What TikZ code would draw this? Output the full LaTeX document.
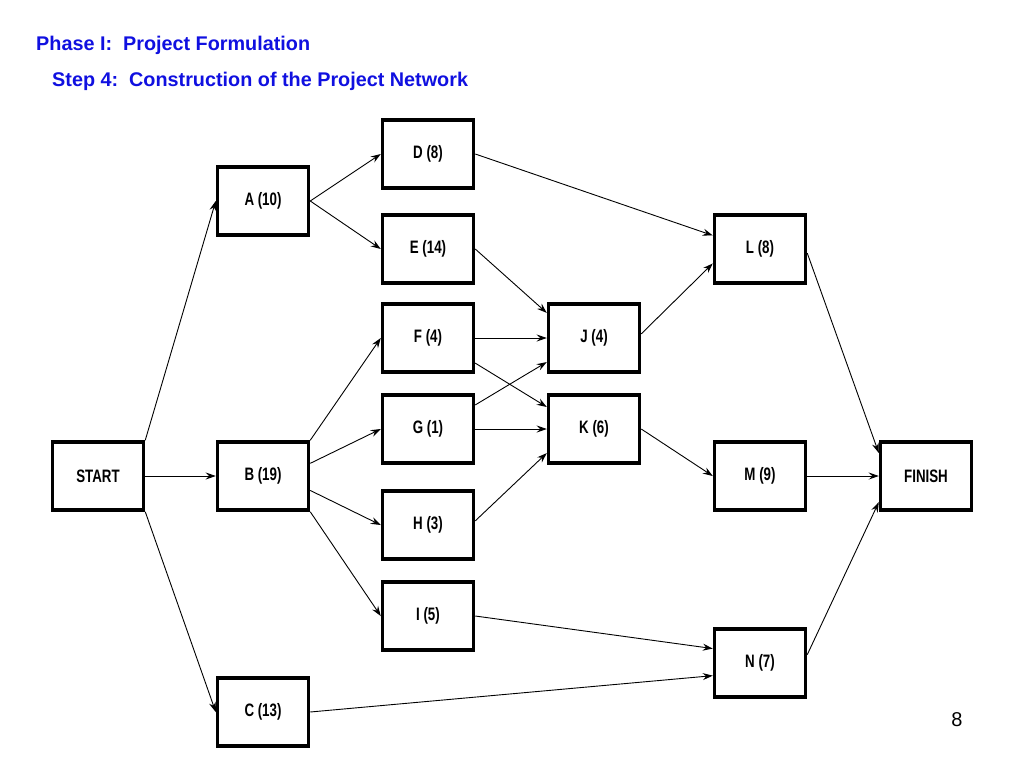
\documentclass[tikz,border=0pt]{standalone}
\usepackage{fontspec}
\setmainfont{Liberation Sans}
\newfontfamily\narrowfont{Liberation Sans}[FakeStretch=0.74]
\usetikzlibrary{arrows.meta}
\definecolor{titleblue}{RGB}{16,16,224}
\tikzset{actbox/.style={draw, rectangle, line width=3.5pt, minimum width=91pt,
    minimum height=68pt, inner sep=0pt, font=\narrowfont\bfseries\fontsize{18}{20}\selectfont},
  heading/.style={anchor=base west, inner sep=0pt, color=titleblue, font=\bfseries\fontsize{19.8}{22}\selectfont},
  net/.style={line width=0.9pt, -{Stealth[length=10pt,width=7pt,inset=3.5pt]}}}
\begin{document}
\begin{tikzpicture}
[x=1pt, y=-1pt]
\useasboundingbox (0,0) rectangle (1024,768);
  \node [heading] (t1) at (36,51) {Phase I:\ \ Project Formulation};
  \node [heading] (t2) at (52,86) {Step 4:\ \ Construction of the Project Network};
  \node [actbox] (S) at (98,476) {START};
  \node [actbox] (A) at (263,201) {A (10)};
  \node [actbox] (B) at (263,476) {B (19)};
  \node [actbox] (C) at (263,712) {C (13)};
  \node [actbox] (D) at (428,154) {D (8)};
  \node [actbox] (E) at (428,249) {E (14)};
  \node [actbox] (F) at (428,338) {F (4)};
  \node [actbox] (G) at (428,429) {G (1)};
  \node [actbox] (H) at (428,525) {H (3)};
  \node [actbox] (I) at (428,616) {I (5)};
  \node [actbox] (J) at (594,338) {J (4)};
  \node [actbox] (K) at (594,429) {K (6)};
  \node [actbox] (L) at (760,249) {L (8)};
  \node [actbox] (M) at (760,476) {M (9)};
  \node [actbox] (N) at (760,663) {N (7)};
  \node [actbox] (Fin) at (926,476) {FINISH};
  \node [anchor=base, font=\fontsize{20}{22}\selectfont] (pg) at (957,726) {8};
  \foreach \from/\to in {S.north east/A.west, S.east/B.west, S.south east/C.west,
    A.east/D.west, A.east/E.west, B.north east/F.west, B.15/G.west, B.-17/H.west,
    B.south east/I.west, C.east/N.195, I.east/N.163, D.east/L.164, E.east/J.152,
    F.east/J.west, G.27/J.207, F.-28/K.155, G.east/K.west, H.5/K.207, J.5/L.197,
    K.east/M.west, L.-5/Fin.154, M.east/Fin.west, N.10/Fin.209}
  \draw [net] (\from) -- (\to);
\end{tikzpicture}
\end{document}
